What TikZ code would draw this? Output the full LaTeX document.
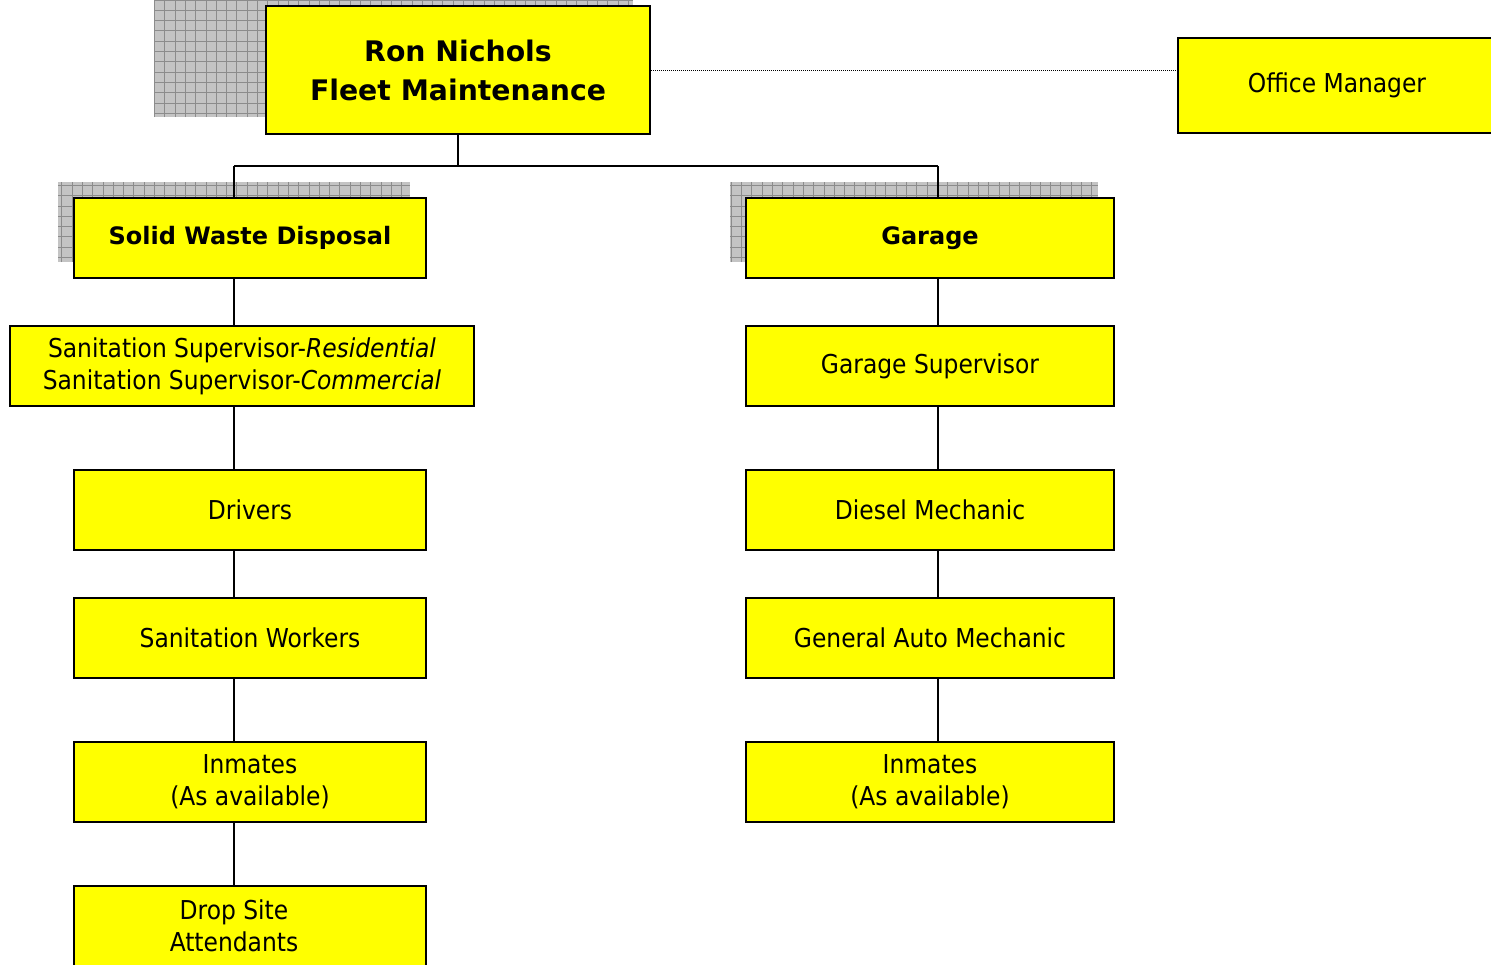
\documentclass[tikz,border=0pt]{standalone}
\usepackage{fontspec}
\setmainfont{DejaVu Sans Condensed}
\newfontfamily\widebold{DejaVu Sans Bold}
\definecolor{boxyellow}{HTML}{FFFF00}
\definecolor{shadowgray}{HTML}{C4C4C4}
\definecolor{gridgray}{HTML}{8C8C8C}
\newcommand\orgshadow[4]{%
  \begin{scope}
    \clip (#1,#2) rectangle (#3,#4);
    \fill[shadowgray] (#1,#2) rectangle (#3,#4);
    \draw[gridgray, line width=0.9pt] (#1,#2) grid[step=10.3pt] (#3,#4);
  \end{scope}}
\tikzset{
  orgbox/.style={draw=black, line width=2pt, fill=boxyellow, align=center, inner sep=0pt,
    font=\fontsize{26}{32}\selectfont},
  headbox/.style={orgbox, font=\fontsize{24}{32}\selectfont\widebold},
  titlebox/.style={orgbox, font=\fontsize{28.3}{39}\selectfont\widebold},
  orgtext/.style={align=center, inner sep=0pt, font=\fontsize{26}{32}\selectfont},
  link/.style={draw=black, line width=2pt},
  dotlink/.style={draw=black, line width=1pt, dash pattern=on 1pt off 1pt}
}
\begin{document}
\begin{tikzpicture}[x=1pt, y=-1pt]
\useasboundingbox (0,0) rectangle (1491,964);
% shadows
\orgshadow{154}{0}{633}{117}
\orgshadow{58}{182}{410}{262}
\orgshadow{730}{182}{1098}{262}
% junction points
\coordinate (jl) at (234,166);
\coordinate (jr) at (938,166);
% boxes
\node[titlebox, minimum width=384pt, minimum height=128pt] (top) at (458,70) {Ron Nichols\\Fleet Maintenance};
\node[orgbox, minimum width=318pt, minimum height=95pt] (office) at (1337,85.5) {Office Manager};
\draw[link] (top.south) -- (top.south |- jl);
\draw[link] (jl) -- (jr);
\draw[link] (jl) -- (234,198);
\draw[link] (jr) -- (938,198);
\node[headbox, minimum width=352pt, minimum height=80pt] (sw) at (250,238) {Solid Waste Disposal};
\node[headbox, minimum width=368pt, minimum height=80pt] (garage) at (930,238) {Garage};
\node[orgbox, minimum width=464pt, minimum height=80pt] (sup) at (242,366) {Sanitation Supervisor-\textit{Residential}\\Sanitation Supervisor-\textit{Commercial}};
\node[orgbox, minimum width=352pt, minimum height=80pt] (drivers) at (250,510) {Drivers};
\node[orgbox, minimum width=352pt, minimum height=80pt] (workers) at (250,638) {Sanitation Workers};
\node[orgbox, minimum width=352pt, minimum height=80pt] (inmatesl) at (250,782) {Inmates\\(As available)};
\node[orgbox, minimum width=352pt, minimum height=80pt] (drop) at (250,926) {};
\node[orgtext] (droptext) at ([xshift=-16pt]drop.center) {Drop Site\\Attendants};
\node[orgbox, minimum width=368pt, minimum height=80pt] (gsup) at (930,366) {Garage Supervisor};
\node[orgbox, minimum width=368pt, minimum height=80pt] (diesel) at (930,510) {Diesel Mechanic};
\node[orgbox, minimum width=368pt, minimum height=80pt] (auto) at (930,638) {General Auto Mechanic};
\node[orgbox, minimum width=368pt, minimum height=80pt] (inmatesr) at (930,782) {Inmates\\(As available)};
% dotted link
\draw[dotlink] (top.east) -- (top.east -| office.west);
% vertical chains
\draw[link] (jl |- sw.south) -- (jl |- sup.north);
\draw[link] (jl |- sup.south) -- (jl |- drivers.north);
\draw[link] (jl |- drivers.south) -- (jl |- workers.north);
\draw[link] (jl |- workers.south) -- (jl |- inmatesl.north);
\draw[link] (jl |- inmatesl.south) -- (jl |- drop.north);
\draw[link] (jr |- garage.south) -- (jr |- gsup.north);
\draw[link] (jr |- gsup.south) -- (jr |- diesel.north);
\draw[link] (jr |- diesel.south) -- (jr |- auto.north);
\draw[link] (jr |- auto.south) -- (jr |- inmatesr.north);
\end{tikzpicture}
\end{document}
